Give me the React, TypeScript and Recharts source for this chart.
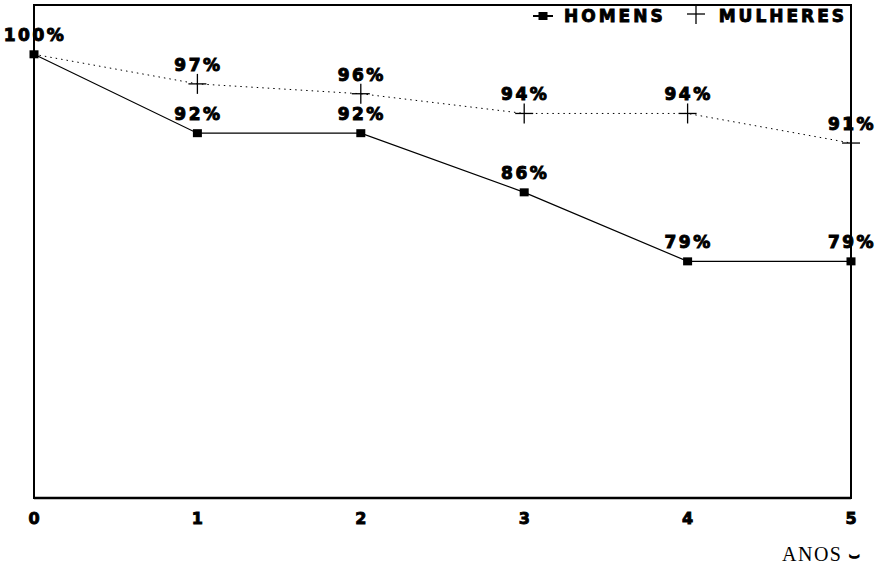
import React from 'react';
import { LineChart, Line, XAxis, YAxis, ReferenceArea } from 'recharts';

const anos = [0, 1, 2, 3, 4, 5];
const homens = [100, 92, 92, 86, 79, 79];
const mulheres = [100, 97, 96, 94, 94, 91];
const seriesNames = ['HOMENS', 'MULHERES'];
const xTicks = [0, 1, 2, 3, 4, 5];
const axisTitle = 'ANOS';

const data = anos.map((a, i) => ({ ano: a, homens: homens[i], mulheres: mulheres[i] }));

const LABEL_FONT = '"DejaVu Sans", Arial, sans-serif';

const SquareDot = (props: any) => {
  const { cx, cy } = props;
  if (cx == null || cy == null) return null;
  return <rect x={cx - 4.5} y={cy - 4} width={9} height={8} fill="#000" />;
};

const PlusDot = (props: any) => {
  const { cx, cy, index } = props;
  if (cx == null || cy == null || index === 0) return null;
  return (
    <g stroke="#000" strokeWidth={1.3}>
      <line x1={cx - 9} y1={cy} x2={cx + 9} y2={cy} />
      <line x1={cx} y1={cy - 10} x2={cx} y2={cy + 10} />
    </g>
  );
};

const makeLabel = (skipFirst: boolean) => (props: any) => {
  const { x, y, value, index } = props;
  if (skipFirst && index === 0) return null;
  return (
    <text
      x={x + 1}
      y={y - 13}
      textAnchor="middle"
      fontFamily={LABEL_FONT}
      fontWeight="bold"
      fontSize={17}
      letterSpacing={2.5}
      fill="#000"
      stroke="#000"
      strokeWidth={1}
    >
      {`${value}%`}
    </text>
  );
};

const LegendBox = () => (
  <div
    style={{
      position: 'absolute',
      left: 532,
      top: 6,
      display: 'flex',
      alignItems: 'center',
      fontFamily: LABEL_FONT,
      fontWeight: 'bold',
      fontSize: 17,
      letterSpacing: 3,
      color: '#000',
      lineHeight: '20px',
      whiteSpace: 'nowrap',
      WebkitTextStroke: '0.9px #000',
    }}
  >
    <svg width={22} height={20} style={{ marginRight: 10 }}>
      <line x1={1} y1={10} x2={21} y2={10} stroke="#000" strokeWidth={2} />
      <rect x={6.5} y={6} width={9} height={8} fill="#000" />
    </svg>
    <span>{seriesNames[0]}</span>
    <svg width={20} height={22} style={{ marginLeft: 20, marginRight: 13, marginTop: -4 }}>
      <line x1={1} y1={11} x2={19} y2={11} stroke="#000" strokeWidth={1.3} />
      <line x1={10} y1={1} x2={10} y2={21} stroke="#000" strokeWidth={1.3} />
    </svg>
    <span>{seriesNames[1]}</span>
  </div>
);

export default function App() {
  return (
    <div style={{ position: 'absolute', left: 0, top: 0, width: 879, height: 567, background: '#fff' }}>
      <LineChart
        width={879}
        height={567}
        data={data}
        margin={{ top: 5, right: 28, left: 34, bottom: 39 }}
      >
        <XAxis
          dataKey="ano"
          type="number"
          domain={[0, 5]}
          ticks={xTicks}
          height={30}
          tickSize={0}
          tickMargin={15}
          axisLine={{ stroke: '#000', strokeWidth: 2.5 }}
          tick={{ fill: '#000', stroke: '#000', strokeWidth: 0.9, fontFamily: LABEL_FONT, fontWeight: 'bold', fontSize: 16 }}
          padding={{ left: 0, right: 0 }}
        />
        <YAxis
          type="number"
          domain={[55, 105]}
          width={0}
          tick={false}
          tickLine={false}
          axisLine={{ stroke: '#000', strokeWidth: 3 }}
        />
        <ReferenceArea
          x1={0}
          x2={5}
          y1={55}
          y2={105}
          fill="none"
          stroke="#000"
          strokeWidth={2}
          ifOverflow="visible"
        />
        <Line
          dataKey="mulheres"
          stroke="#000"
          strokeWidth={1}
          strokeDasharray="1.5 4"
          dot={<PlusDot />}
          activeDot={false}
          label={makeLabel(true)}
          isAnimationActive={false}
        />
        <Line
          dataKey="homens"
          stroke="#000"
          strokeWidth={1.2}
          dot={<SquareDot />}
          activeDot={false}
          label={makeLabel(false)}
          isAnimationActive={false}
        />
      </LineChart>
      <LegendBox />
      <div
        style={{
          position: 'absolute',
          left: 782,
          top: 542,
          fontFamily: '"Liberation Serif", "Times New Roman", serif',
          fontSize: 20,
          letterSpacing: 1.5,
          color: '#000',
          whiteSpace: 'nowrap',
          lineHeight: '24px',
        }}
      >
        {axisTitle}{' '}
        <span style={{ fontFamily: '"DejaVu Sans", sans-serif', fontWeight: 'bold', fontSize: 16, WebkitTextStroke: '1px #000' }}>⌣</span>
      </div>
    </div>
  );
}
